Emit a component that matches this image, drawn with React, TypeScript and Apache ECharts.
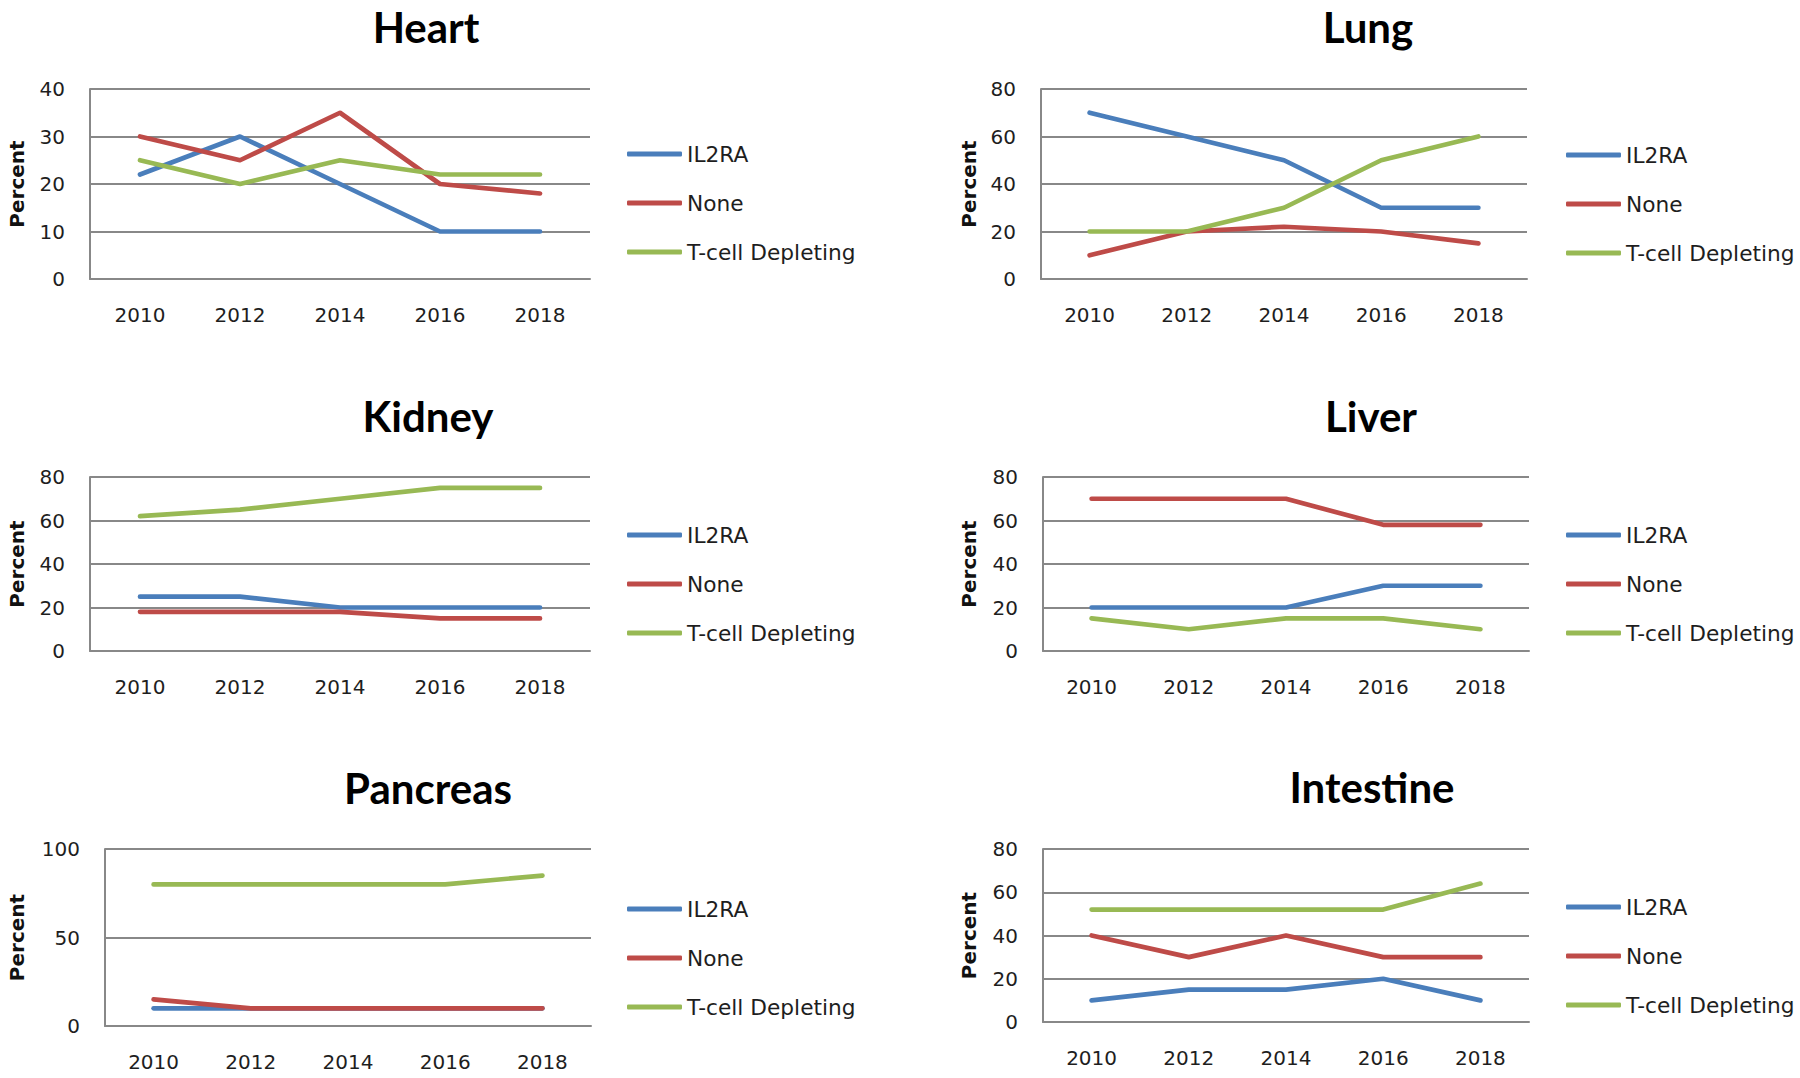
import React, { useEffect, useRef } from "react";
import * as echarts from "echarts";

// ---------- data ----------
const years = ["2010", "2012", "2014", "2016", "2018"];
const seriesNames = ["IL2RA", "None", "T-cell Depleting"];
const panelTitles = ["Heart", "Lung", "Kidney", "Liver", "Pancreas", "Intestine"];

const heartIL2RA = [22, 30, 20, 10, 10];
const heartNone = [30, 25, 35, 20, 18];
const heartTcell = [25, 20, 25, 22, 22];

const lungIL2RA = [70, 60, 50, 30, 30];
const lungNone = [10, 20, 22, 20, 15];
const lungTcell = [20, 20, 30, 50, 60];

const kidneyIL2RA = [25, 25, 20, 20, 20];
const kidneyNone = [18, 18, 18, 15, 15];
const kidneyTcell = [62, 65, 70, 75, 75];

const liverIL2RA = [20, 20, 20, 30, 30];
const liverNone = [70, 70, 70, 58, 58];
const liverTcell = [15, 10, 15, 15, 10];

const pancreasIL2RA = [10, 10, 10, 10, 10];
const pancreasNone = [15, 10, 10, 10, 10];
const pancreasTcell = [80, 80, 80, 80, 85];

const intestineIL2RA = [10, 15, 15, 20, 10];
const intestineNone = [40, 30, 40, 30, 30];
const intestineTcell = [52, 52, 52, 52, 64];

const yMax = [40, 80, 80, 80, 100, 80];
const yInterval = [10, 20, 20, 20, 50, 20];
const yAxisTitle = "Percent";

const panelData = [
  [heartIL2RA, heartNone, heartTcell],
  [lungIL2RA, lungNone, lungTcell],
  [kidneyIL2RA, kidneyNone, kidneyTcell],
  [liverIL2RA, liverNone, liverTcell],
  [pancreasIL2RA, pancreasNone, pancreasTcell],
  [intestineIL2RA, intestineNone, intestineTcell],
];

// ---------- layout / style ----------
const colors = ["#4a7ebb", "#be4b48", "#98b954"];
const gridLayout = [
  { left: 90, top: 89, width: 500, height: 190, titleX: 426, titleY: 27, legendLeft: 627, legendTop: 143, nameGap: 63 },
  { left: 1041, top: 89, width: 486, height: 190, titleX: 1368, titleY: 27, legendLeft: 1566, legendTop: 144, nameGap: 62 },
  { left: 90, top: 477, width: 500, height: 174, titleX: 428, titleY: 416, legendLeft: 627, legendTop: 524, nameGap: 63 },
  { left: 1043, top: 477, width: 486, height: 174, titleX: 1371, titleY: 416, legendLeft: 1566, legendTop: 524, nameGap: 64 },
  { left: 105, top: 849, width: 486, height: 177, titleX: 428, titleY: 788, legendLeft: 627, legendTop: 898, nameGap: 78 },
  { left: 1043, top: 849, width: 486, height: 173, titleX: 1372, titleY: 787, legendLeft: 1566, legendTop: 896, nameGap: 64 },
];

const gridColor = "#888888";
const textColor = "#1e1e1e";
const labelFont = "DejaVu Sans";

function buildOption() {
  const title: any[] = [];
  const grid: any[] = [];
  const xAxis: any[] = [];
  const yAxis: any[] = [];
  const legend: any[] = [];
  const series: any[] = [];

  gridLayout.forEach((g, i) => {
    title.push({
      text: panelTitles[i],
      left: g.titleX,
      top: g.titleY,
      textAlign: "center",
      textVerticalAlign: "middle",
      padding: 0,
      textStyle: {
        fontFamily: "Lato",
        fontWeight: "bold",
        fontSize: 42,
        color: "#000",
      },
    });
    grid.push({ left: g.left, top: g.top, width: g.width, height: g.height, containLabel: false });
    xAxis.push({
      type: "category",
      gridIndex: i,
      data: years,
      boundaryGap: true,
      axisLine: { show: true, lineStyle: { color: gridColor, width: 2 } },
      axisTick: { show: false },
      axisLabel: { color: textColor, fontFamily: labelFont, fontSize: 20, margin: 26 },
      splitLine: { show: false },
    });
    yAxis.push({
      type: "value",
      gridIndex: i,
      min: 0,
      max: yMax[i],
      interval: yInterval[i],
      name: yAxisTitle,
      nameLocation: "middle",
      nameRotate: 90,
      nameGap: g.nameGap,
      nameTextStyle: { color: "#111", fontFamily: labelFont, fontWeight: "bold", fontSize: 20 },
      axisLine: { show: true, lineStyle: { color: gridColor, width: 2 } },
      axisTick: { show: false },
      axisLabel: { color: textColor, fontFamily: labelFont, fontSize: 20, margin: 25 },
      splitLine: { show: true, lineStyle: { color: gridColor, width: 2 } },
    });
    legend.push({
      data: seriesNames,
      orient: "vertical",
      left: g.legendLeft,
      top: g.legendTop,
      padding: 0,
      itemGap: 27,
      itemWidth: 55,
      itemHeight: 5,
      icon: "roundRect",
      selectedMode: false,
      textStyle: { color: textColor, fontFamily: labelFont, fontSize: 21.7, lineHeight: 22 },
    });
    panelData[i].forEach((vals, k) => {
      series.push({
        type: "line",
        name: seriesNames[k],
        xAxisIndex: i,
        yAxisIndex: i,
        data: vals,
        showSymbol: false,
        symbol: "none",
        color: colors[k],
        lineStyle: { color: colors[k], width: 4.7, cap: "round", join: "round" },
        itemStyle: { color: colors[k] },
        z: 2 + k,
      });
    });
  });

  return {
    animation: false,
    backgroundColor: "#ffffff",
    title,
    grid,
    xAxis,
    yAxis,
    legend,
    series,
  };
}

export default function App() {
  const ref = useRef<HTMLDivElement>(null);
  useEffect(() => {
    if (!ref.current) return;
    const chart = echarts.init(ref.current, undefined, { renderer: "svg" });
    chart.setOption(buildOption() as any);
    return () => chart.dispose();
  }, []);
  return (
    <div
      ref={ref}
      style={{ position: "absolute", left: 0, top: 0, width: 1800, height: 1078, background: "#fff" }}
    />
  );
}
